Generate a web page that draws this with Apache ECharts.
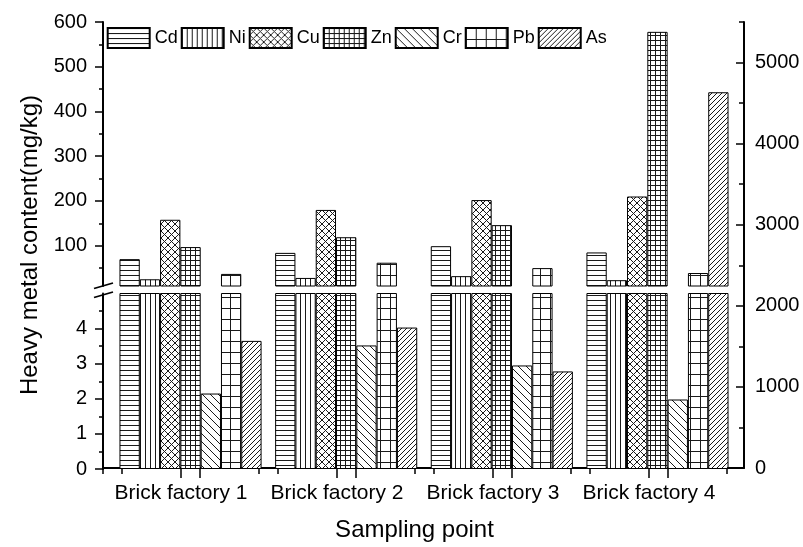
<!DOCTYPE html>
<html>
<head>
<meta charset="utf-8">
<script src="https://cdn.jsdelivr.net/npm/echarts@6/dist/echarts.min.js"></script>
<style>
  html, body { margin: 0; padding: 0; background: #fff; }
  #chart { width: 803px; height: 547px; }
</style>
</head>
<body>
<div id="chart"></div>
<script>
// data
var categories = ['Brick factory 1', 'Brick factory 2', 'Brick factory 3', 'Brick factory 4'];
var metals = ['Cd', 'Ni', 'Cu', 'Zn', 'Cr', 'Pb', 'As'];
var cdData = [70, 84, 99, 85];
var niData = [25, 28, 32, 23];
var cuData = [158, 180, 202, 210];
var znData = [97, 119, 146, 578];
var crData = [2.15, 3.52, 2.95, 1.98];
var pbData = [37, 62, 50, 39];
var asData = [3.65, 4.03, 2.78, 443];
var upperTicks = [100, 200, 300, 400, 500, 600];
var upperMinor = [50, 150, 250, 350, 450, 550];
var lowerTicks = [0, 1, 2, 3, 4];
var lowerMinor = [0.5, 1.5, 2.5, 3.5, 4.5];
var rightTicks = [0, 1000, 2000, 3000, 4000, 5000];
var rightMinor = [500, 1500, 2500, 3500, 4500, 5500];

var allData = [cdData, niData, cuData, znData, crData, pbData, asData];
var patternKinds = ['hline', 'vline', 'cross', 'grid', 'back', 'bigGrid', 'slash'];

// layout (px)
var W = 803, H = 547;
var AX_L = 103, AX_R = 744, TOP = 22, BASE = 469;
var BRK_HI = 286, BRK_LO = 293.5;
var BAR_L = 112.7, BAR_R = 735.3;
var X_MIN = 0.5, X_MAX = 4.609, SHIFT = 0.118;

var font = "'Liberation Sans', Arial, sans-serif";
var axisLineStyle = { color: '#000', width: 2 };
var tickStyle = { color: '#000', width: 1.5 };

function makePattern(kind) {
  var size = {
    hline: [6, 5], vline: [5, 6], cross: [7, 7], grid: [5, 5],
    back: [8, 8], bigGrid: [10, 11], slash: [5, 5]
  }[kind];
  var w = size[0], h = size[1];
  var c = document.createElement('canvas');
  c.width = w; c.height = h;
  var g = c.getContext('2d');
  g.fillStyle = '#fff';
  g.fillRect(0, 0, w, h);
  g.strokeStyle = '#1a1a1a';
  g.lineWidth = 1;
  g.beginPath();
  var k;
  if (kind === 'hline') {
    g.moveTo(0, 0.5); g.lineTo(w, 0.5);
  } else if (kind === 'vline') {
    g.moveTo(0.5, 0); g.lineTo(0.5, h);
  } else if (kind === 'grid' || kind === 'bigGrid') {
    g.moveTo(0, 0.5); g.lineTo(w, 0.5);
    g.moveTo(0.5, 0); g.lineTo(0.5, h);
  } else {
    for (k = -1; k <= 1; k++) {
      if (kind === 'back' || kind === 'cross') {
        g.moveTo(k * w, 0); g.lineTo(k * w + w, h);
      }
      if (kind === 'slash' || kind === 'cross') {
        g.moveTo(k * w, h); g.lineTo(k * w + w, 0);
      }
    }
  }
  g.stroke();
  return c;
}

var majorX = categories.map(function (c, i) { return i + 1; });
var minorX = [0.5].concat(categories.map(function (c, i) { return i + 1.5; }));
var shiftMajorX = majorX.map(function (v) { return v + SHIFT; });
var shiftMinorX = minorX.map(function (v) { return v + SHIFT; }).filter(function (v) { return v <= X_MAX; });

function frameX(ticks, len, extra) {
  var o = {
    gridIndex: 0, type: 'value', position: 'bottom', min: X_MIN, max: X_MAX,
    axisLine: { show: false, onZero: false },
    axisTick: { show: true, customValues: ticks, length: len, lineStyle: tickStyle },
    axisLabel: { show: false },
    splitLine: { show: false }
  };
  return Object.assign(o, extra || {});
}

function leftY(grid, min, max, ticks, len, withLine, labels) {
  return {
    gridIndex: grid, type: 'value', position: 'left', offset: BAR_L - AX_L,
    min: min, max: max,
    axisLine: { show: withLine, onZero: false, lineStyle: axisLineStyle },
    axisTick: { show: true, customValues: ticks, length: len, lineStyle: tickStyle },
    axisLabel: labels ? {
      show: true, customValues: labels, margin: 16, fontSize: 20, color: '#000', fontFamily: font,
      formatter: function (v) { return String(v); }
    } : { show: false },
    splitLine: { show: false }
  };
}

var series = [];
metals.forEach(function (name, i) {
  var fill = { image: makePattern(patternKinds[i]), repeat: 'repeat' };
  [[4, 3], [5, 5]].forEach(function (ax) {
    series.push({
      type: 'bar',
      name: name,
      xAxisIndex: ax[0],
      yAxisIndex: ax[1],
      data: allData[i],
      barWidth: 20.3,
      barGap: '0%',
      clip: true,
      itemStyle: { color: fill, borderColor: '#000', borderWidth: 1 },
      emphasis: { disabled: true }
    });
  });
});

var myChart = echarts.init(document.getElementById('chart'));
var option = {
  animation: false,
  backgroundColor: '#fff',
  textStyle: { fontFamily: font, color: '#000' },
  legend: {
    data: metals,
    left: 106.7,
    top: 27,
    padding: 0,
    icon: 'rect',
    itemWidth: 42,
    itemHeight: 20,
    itemGap: 3,
    textStyle: { fontSize: 18, color: '#000', fontFamily: font }
  },
  grid: [
    { left: AX_L, right: W - AX_R, top: TOP, bottom: H - BASE },
    { left: BAR_L, right: W - BAR_R, top: TOP, bottom: H - BRK_HI },
    { left: BAR_L, right: W - BAR_R, top: BRK_LO, bottom: H - BASE }
  ],
  xAxis: [
    frameX(majorX, 10, {
      axisLine: { show: true, onZero: false, lineStyle: axisLineStyle },
      axisLabel: {
        show: true, customValues: majorX, margin: 15, fontSize: 21, color: '#000', fontFamily: font,
        formatter: function (v) { return categories[Math.round(v) - 1]; }
      },
      name: 'Sampling point',
      nameLocation: 'middle',
      nameGap: 50,
      nameTextStyle: { fontSize: 24, color: '#000', fontFamily: font, padding: [0, 18, 0, 0] }
    }),
    frameX(minorX, 6),
    frameX(shiftMajorX, 10),
    frameX(shiftMinorX, 6),
    { gridIndex: 1, type: 'category', data: categories, show: false },
    { gridIndex: 2, type: 'category', data: categories, show: false }
  ],
  yAxis: [
    {
      gridIndex: 0, type: 'value', position: 'right', min: 0, max: 5500,
      axisLine: { show: true, onZero: false, lineStyle: axisLineStyle },
      axisTick: { show: true, inside: true, customValues: rightTicks, length: 8, lineStyle: tickStyle },
      axisLabel: {
        show: true, customValues: rightTicks, margin: 11, fontSize: 20, color: '#000', fontFamily: font,
        formatter: function (v) { return String(v); }
      },
      splitLine: { show: false }
    },
    {
      gridIndex: 0, type: 'value', position: 'right', min: 0, max: 5500,
      axisLine: { show: false },
      axisTick: { show: true, inside: true, customValues: rightMinor, length: 5, lineStyle: tickStyle },
      axisLabel: { show: false },
      splitLine: { show: false }
    },
    leftY(1, 10, 600, upperTicks, 8, true, upperTicks),
    leftY(1, 10, 600, upperMinor, 4, false, null),
    leftY(2, 0, 5, lowerTicks, 8, true, lowerTicks),
    leftY(2, 0, 5, lowerMinor, 4, false, null),
    {
      gridIndex: 0, type: 'value', position: 'left', min: 0, max: 1,
      axisLine: { show: false }, axisTick: { show: false }, axisLabel: { show: false },
      splitLine: { show: false },
      name: 'Heavy metal content(mg/kg)',
      nameLocation: 'middle',
      nameGap: 61,
      nameTextStyle: { fontSize: 24, color: '#000', fontFamily: font }
    }
  ],
  graphic: [
    {
      type: 'line', silent: true,
      shape: { x1: AX_L - 9, y1: BRK_HI + 2.5, x2: AX_L + 10, y2: BRK_HI - 3 },
      style: { stroke: '#000', lineWidth: 1.8 }
    },
    {
      type: 'line', silent: true,
      shape: { x1: AX_L - 9, y1: BRK_LO + 4, x2: AX_L + 10, y2: BRK_LO - 1.5 },
      style: { stroke: '#000', lineWidth: 1.8 }
    }
  ],
  series: series
};
myChart.setOption(option, true);
</script>
</body>
</html>
